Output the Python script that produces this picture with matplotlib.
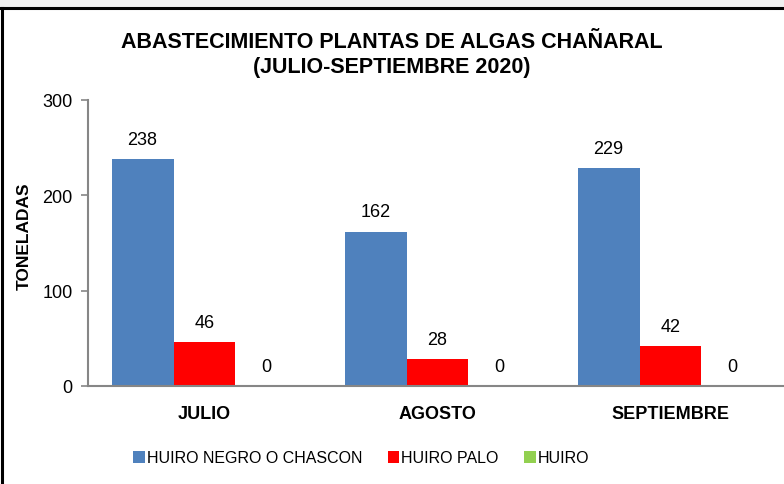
import matplotlib.pyplot as plt
from matplotlib.patches import Rectangle
from matplotlib.lines import Line2D
import numpy as np

plt.rcParams['font.family'] = ['Liberation Sans', 'DejaVu Sans']

# Datos
meses = ['JULIO', 'AGOSTO', 'SEPTIEMBRE']
huiro_negro = [238, 162, 229]
huiro_palo = [46, 28, 42]
huiro = [0, 0, 0]
series = ['HUIRO NEGRO O CHASCON', 'HUIRO PALO', 'HUIRO']
colores = ['#4f81bd', '#ff0000', '#92d050']

fig = plt.figure(figsize=(7.84, 4.85), dpi=100)

# marco del grafico
fig.patches.append(Rectangle((0, 1 - 8 / 485), 1, 8 / 485, transform=fig.transFigure,
                             facecolor='#f0f0f0', edgecolor='none', zorder=0))
fig.lines.append(Line2D([0, 1], [1 - 9 / 485, 1 - 9 / 485], transform=fig.transFigure,
                        color='black', lw=2.2))
fig.lines.append(Line2D([1.5 / 784, 1.5 / 784], [0, 1 - 9 / 485], transform=fig.transFigure,
                        color='black', lw=2.2))

ax = fig.add_axes([88 / 784, 98 / 485, 696 / 784, 286 / 485])
x = np.arange(len(meses))
w = 0.266
valores = [huiro_negro, huiro_palo, huiro]
for i, (vals, col, nom) in enumerate(zip(valores, colores, series)):
    pos = x + (i - 1) * w
    ax.bar(pos, vals, w, color=col, label=nom)
    for p, v in zip(pos, vals):
        ax.annotate(str(v), (p, v), xytext=(0, 8), textcoords='offset points',
                    ha='center', va='bottom', fontsize=13)

ax.set_xlim(-0.5, -0.5 + 696 / 233)
ax.set_ylim(0, 300)
ax.set_yticks([0, 100, 200, 300])
ax.set_xticks(x)
ax.set_xticklabels(meses, fontsize=13, fontweight='bold')
ax.tick_params(axis='x', length=0, pad=14)
ax.tick_params(axis='y', labelsize=13, color='#868686', length=5, width=1.2, pad=6)
for s in ['top', 'right']:
    ax.spines[s].set_visible(False)
for s in ['left', 'bottom']:
    ax.spines[s].set_color('#868686')
    ax.spines[s].set_linewidth(1.5)
ax.set_ylabel('TONELADAS', fontsize=12.5, fontweight='bold')
ax.yaxis.set_label_coords(-56 / 696, 0.528)

fig.text(0.5, 1 - 42 / 485, 'ABASTECIMIENTO PLANTAS DE ALGAS CHAÑARAL', ha='center', va='center',
         fontsize=15.5, fontweight='bold')
fig.text(0.5, 1 - 68 / 485, '(JULIO-SEPTIEMBRE 2020)', ha='center', va='center',
         fontsize=15.5, fontweight='bold')

fig.legend(loc='center left', bbox_to_anchor=(119 / 784, 1 - 459 / 485), ncol=3, frameon=False,
           fontsize=11.5, handlelength=0.7, handleheight=0.7, handletextpad=0.15,
           columnspacing=1.6)

fig.savefig('out.png', dpi=100)
